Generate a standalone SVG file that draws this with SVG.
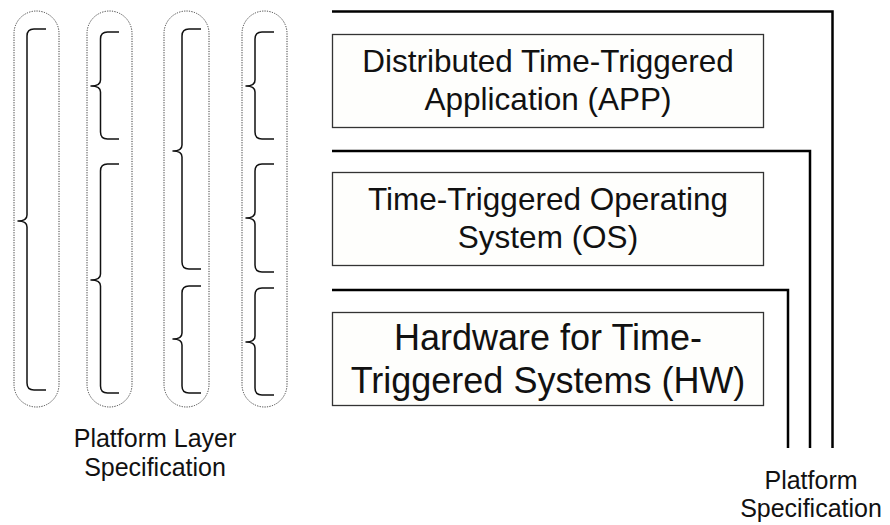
<svg xmlns="http://www.w3.org/2000/svg" width="890" height="525" viewBox="0 0 890 525">
  <style>
    .layer { fill: #fefefc; stroke: #333333; stroke-width: 1.3; }
    .big { font-family: "Liberation Sans", Arial, sans-serif; font-size: 31.5px; fill: #111111; text-anchor: middle; }
    .hw { font-size: 36px; }
    .cap { font-family: "Liberation Sans", Arial, sans-serif; font-size: 25px; fill: #111111; text-anchor: middle; }
    .pill { fill: none; stroke: #3a3a3a; stroke-width: 1; stroke-dasharray: 1.2 1.3; }
    .brace { fill: none; stroke: #111111; stroke-width: 1.5; stroke-linejoin: round; }
    .spec { fill: none; stroke: #000000; stroke-width: 2.5; }
  </style>

  <!-- platform layer specification: dotted capsules holding curly braces -->
  <g id="layer-spec-1">
    <rect class="pill" x="14" y="11" width="45" height="396" rx="22.5" ry="22.5"/>
    <path class="brace" d="M46,29 H34 Q27,29 27,36 V215 Q27,221 18,221 Q27,221 27,227 V383 Q27,390 34,390 H46"/>
  </g>
  <g id="layer-spec-2">
    <rect class="pill" x="87" y="11" width="45" height="396" rx="22.5" ry="22.5"/>
    <path class="brace" d="M119,32 H107.5 Q100.5,32 100.5,39 V80 Q100.5,86 91,86 Q100.5,86 100.5,92 V132 Q100.5,139 107.5,139 H119"/>
    <path class="brace" d="M119,164 H107.5 Q100.5,164 100.5,171 V274 Q100.5,280 91,280 Q100.5,280 100.5,286 V386 Q100.5,393 107.5,393 H119"/>
  </g>
  <g id="layer-spec-3">
    <rect class="pill" x="164" y="11" width="45" height="396" rx="22.5" ry="22.5"/>
    <path class="brace" d="M201,29 H189 Q182,29 182,36 V145 Q182,151 173,151 Q182,151 182,157 V262 Q182,269 189,269 H201"/>
    <path class="brace" d="M201,286 H189 Q182,286 182,293 V333 Q182,339 173,339 Q182,339 182,345 V386 Q182,393 189,393 H201"/>
  </g>
  <g id="layer-spec-4">
    <rect class="pill" x="242" y="11" width="45" height="396" rx="22.5" ry="22.5"/>
    <path class="brace" d="M274,32 H262 Q255,32 255,39 V80 Q255,86 246,86 Q255,86 255,92 V132 Q255,139 262,139 H274"/>
    <path class="brace" d="M274,164 H262 Q255,164 255,171 V212 Q255,218 246,218 Q255,218 255,224 V265 Q255,272 262,272 H274"/>
    <path class="brace" d="M274,288 H262 Q255,288 255,295 V336 Q255,342 246,342 Q255,342 255,348 V388 Q255,395 262,395 H274"/>
  </g>
  <g id="layer-spec-label">
    <text class="cap" x="155" y="447">Platform Layer</text>
    <text class="cap" x="155" y="476">Specification</text>
  </g>

  <!-- layers of the platform -->
  <g id="app">
    <rect class="layer" x="332.5" y="34.5" width="431" height="93"/>
    <text class="big" x="548" y="72">Distributed Time-Triggered</text>
    <text class="big" x="548" y="110">Application (APP)</text>
  </g>
  <g id="os">
    <rect class="layer" x="332.5" y="172.5" width="431" height="93"/>
    <text class="big" x="548" y="210">Time-Triggered Operating</text>
    <text class="big" x="548" y="248">System (OS)</text>
  </g>
  <g id="hw">
    <rect class="layer" x="332.5" y="312.5" width="431" height="93"/>
    <text class="big hw" x="548" y="350">Hardware for Time-</text>
    <text class="big hw" x="548" y="393">Triggered Systems (HW)</text>
  </g>

  <!-- platform specification brackets -->
  <g id="connectors">
    <path class="spec" d="M332,11.5 H832.5 V448"/>
    <path class="spec" d="M332,151 H810 V448"/>
    <path class="spec" d="M332,290 H788 V448"/>
  </g>
  <g id="platform-spec-label">
    <text class="cap" x="811" y="489">Platform</text>
    <text class="cap" x="811" y="517">Specification</text>
  </g>
</svg>
